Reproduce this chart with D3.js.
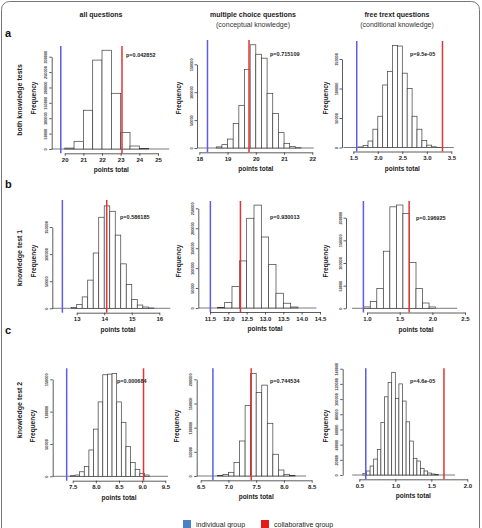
<!DOCTYPE html>
<html><head><meta charset="utf-8">
<script src="https://cdn.jsdelivr.net/npm/d3@7"></script>
<style>
body{margin:0;background:#fff;}
svg{display:block;font-family:"Liberation Sans",Arial,Helvetica,sans-serif;}
</style></head><body>
<svg id="chart" width="482" height="528"></svg>
<script>
// ---------- DATA ----------
const colTitles = ["all questions", "multiple choice questions", "free trext questions"];
const colSubtitles = ["", "(conceptual knowledge)", "(conditional knowledge)"];
const rowLabels = ["both knowledge tests", "knowledge test 1", "knowledge test 2"];
const rowLetters = ["a", "b", "c"];
const legendLabels = ["individual group", "collaborative group"];

const binStarts = [20, 18.6, 1.6, 12.8, 11.7, 0.95, 7.45, 6.8, 0.55];
const binWidths = [0.5, 0.2, 0.1, 0.2, 0.2, 0.1, 0.1, 0.1, 0.05];

const countsA1 = [3000, 25000, 126000, 289000, 321000, 181000, 54000, 9700, 2000];
const countsA2 = [2000, 6000, 16000, 44000, 76500, 141000, 185000, 168000, 161000, 98000, 62000, 27500, 8400, 2400, 600];
const countsA3 = [1000, 3500, 11000, 31000, 53000, 106000, 129000, 173000, 172000, 126000, 100000, 53000, 31000, 12000, 4000, 1200, 300];
const countsB1 = [1800, 7300, 21000, 52000, 102000, 168000, 189000, 179000, 135000, 82000, 44000, 16500, 6000, 2400, 600];
const countsB2 = [1500, 14000, 54000, 118000, 225000, 258000, 178000, 109000, 37000, 12000, 2500];
const countsB3 = [3000, 14700, 44000, 126000, 224000, 228000, 209000, 101000, 44000, 11700, 3000];
const countsC1 = [1000, 2000, 7000, 15000, 40700, 73000, 115000, 157000, 158000, 159000, 115000, 83500, 46000, 21600, 10800, 4600, 2000];
const countsC2 = [1400, 3500, 7600, 28000, 72400, 145500, 212000, 173000, 188000, 109000, 45000, 12400, 3500, 1400];
const countsC3 = [2200, 5300, 11800, 21000, 33800, 69300, 103000, 122000, 135000, 101000, 120000, 97400, 70000, 44700, 22000, 18400, 8800, 5300, 2600, 1300, 900];
const allCounts = [countsA1, countsA2, countsA3, countsB1, countsB2, countsB3, countsC1, countsC2, countsC3];

const breakRanges = [[19.3, 25.6], [17.95, 22.05], [1.3, 3.55], [12.1, 16.4], [11.2, 14.4], [0.77, 2.38], [7.07, 9.56], [6.43, 8.4], [0.4, 1.83]];

const individualScores = [19.79, 18.29, 1.57, 12.48, 11.51, 0.945, 7.37, 6.72, 0.59];
const collaborativeScores = [23.07, 19.76, 3.32, 14.09, 12.33, 1.645, 9.03, 7.41, 1.676];
const pLabels = ["p=0.042852", "p=0.715109", "p=9.5e-05", "p=0.586185", "p=0.930013", "p=0.196925", "p=0.000684", "p=0.744534", "p=4.6e-05"];

const xTicksA1 = [20, 21, 22, 23, 24, 25];
const xTicksA2 = [18, 19, 20, 21, 22];
const xTicksA3 = [1.5, 2.0, 2.5, 3.0, 3.5];
const xTicksB1 = [13, 14, 15, 16];
const xTicksB2 = [11.5, 12.0, 12.5, 13.0, 13.5, 14.0, 14.5];
const xTicksB3 = [1.0, 1.5, 2.0, 2.5];
const xTicksC1 = [7.5, 8.0, 8.5, 9.0, 9.5];
const xTicksC2 = [6.5, 7.0, 7.5, 8.0, 8.5];
const xTicksC3 = [0.5, 1.0, 1.5, 2.0];
const allXTicks = [xTicksA1, xTicksA2, xTicksA3, xTicksB1, xTicksB2, xTicksB3, xTicksC1, xTicksC2, xTicksC3];
const xTickDecimals = [0, 0, 1, 0, 1, 1, 1, 1, 1];

const yTicksA1 = [0, 50000, 100000, 150000, 200000, 250000, 300000];
const yTicksA2 = [0, 50000, 100000, 150000];
const yTicksA3 = [0, 50000, 100000, 150000];
const yTicksB1 = [0, 50000, 100000, 150000];
const yTicksB2 = [0, 50000, 100000, 150000, 200000, 250000];
const yTicksB3 = [0, 50000, 100000, 150000, 200000];
const yTicksC1 = [0, 50000, 100000, 150000];
const yTicksC2 = [0, 50000, 100000, 150000, 200000];
const yTicksC3 = [0, 20000, 40000, 60000, 80000, 100000, 120000, 140000];
const allYTicks = [yTicksA1, yTicksA2, yTicksA3, yTicksB1, yTicksB2, yTicksB3, yTicksC1, yTicksC2, yTicksC3];

// ---------- LAYOUT (pixel placement of each panel) ----------
const layout = [
  {xr:[64.7,158],  yr:[149,56.7],  left:51.7, bottom:153.3, top:46,  px:126, py:57,  fx:34},
  {xr:[199.3,312.3], yr:[148,64.3], left:197, bottom:152.3, top:40,  px:270, py:56,  fx:179},
  {xr:[353.3,451.3], yr:[147.5,59], left:342, bottom:151.5, top:41,  px:410, py:56,  fx:326},
  {xr:[76.7,159.3], yr:[308.3,227], left:52.3, bottom:312.7, top:200, px:120, py:219, fx:34},
  {xr:[210,320],   yr:[308,208.3], left:198.3, bottom:312, top:201, px:270, py:219, fx:179},
  {xr:[367,465],   yr:[308.3,217.7], left:346, bottom:312.5, top:201, px:416, py:220, fx:326},
  {xr:[72.7,165.3], yr:[476.3,379.3], left:52.7, bottom:480.7, top:368.3, px:117, py:383, fx:33.3},
  {xr:[200.7,311.7], yr:[476,379.3], left:196.7, bottom:480.3, top:368.3, px:270, py:383, fx:177.3},
  {xr:[359.3,467.3], yr:[475,368.7], left:342.7, bottom:479.3, top:368.3, px:410, py:383, fx:326}
];
const rowFreqY = [98, 261, 426];
const colCenters = [101, 253, 397];
const rowCenters = [100, 258, 410];
const letterY = [37, 188, 334];

const INDIV = "#5c5ce6", COLLAB = "#e23434";

const svg = d3.select("#chart");

// border
svg.append("rect").attr("x",1.5).attr("y",1.5).attr("width",478).attr("height",545)
  .attr("rx",8).attr("fill","none").attr("stroke","#777").attr("stroke-width",1);

// column headers
colTitles.forEach((t,i)=>{
  svg.append("text").attr("x",colCenters[i]).attr("y",16.5).attr("text-anchor","middle")
    .attr("font-size",7).attr("font-weight","bold").attr("fill","#222").text(t);
  if (colSubtitles[i]) svg.append("text").attr("x",colCenters[i]).attr("y",26.5).attr("text-anchor","middle")
    .attr("font-size",7).attr("fill","#333").text(colSubtitles[i]);
});

// row labels and letters
rowLabels.forEach((t,i)=>{
  svg.append("text").attr("transform",`translate(22,${rowCenters[i]}) rotate(-90)`)
    .attr("text-anchor","middle").attr("font-size",7).attr("font-weight","bold").attr("fill","#222").text(t);
  svg.append("text").attr("x",5).attr("y",letterY[i]).attr("font-size",11).attr("font-weight","bold")
    .attr("fill","#111").text(rowLetters[i]);
});

// panels
allCounts.forEach((counts, k)=>{
  const L = layout[k];
  const xt = allXTicks[k], yt = allYTicks[k];
  const xs = d3.scaleLinear().domain([xt[0], xt[xt.length-1]]).range(L.xr);
  const ys = d3.scaleLinear().domain([0, yt[yt.length-1]]).range(L.yr);
  const g = svg.append("g");
  const row = Math.floor(k/3);

  // baseline (empty bins)
  g.append("line").attr("x1",xs(breakRanges[k][0])).attr("x2",xs(breakRanges[k][1]))
    .attr("y1",ys(0)).attr("y2",ys(0)).attr("stroke","#444").attr("stroke-width",0.7);

  // bars
  const bins = counts.map((c,i)=>({x0: binStarts[k] + i*binWidths[k], x1: binStarts[k] + (i+1)*binWidths[k], c}));
  g.selectAll("rect.bar").data(bins).join("rect").attr("class","bar")
    .attr("x", d=>xs(d.x0)).attr("width", d=>xs(d.x1)-xs(d.x0))
    .attr("y", d=>ys(d.c)).attr("height", d=>ys(0)-ys(d.c))
    .attr("fill","#fff").attr("stroke","#3c3c3c").attr("stroke-width",0.7);

  // x axis
  const dec = xTickDecimals[k];
  const xa = g.append("g").attr("transform",`translate(0,${L.bottom})`)
    .call(d3.axisBottom(xs).tickValues(xt).tickSize(2.5).tickSizeOuter(0).tickPadding(2)
      .tickFormat(d=>d3.format(`.${dec}f`)(d)));
  xa.select(".domain").attr("stroke","#333").attr("stroke-width",0.8);
  xa.selectAll(".tick line").attr("stroke","#333").attr("stroke-width",0.8);
  xa.selectAll("text").attr("font-size",6).attr("font-weight","bold").attr("fill","#222")
    .attr("font-family","Liberation Sans, Arial, sans-serif");

  // y axis
  const ya = g.append("g").attr("transform",`translate(${L.left},0)`)
    .call(d3.axisLeft(ys).tickValues(yt).tickSize(2.5).tickSizeOuter(0).tickFormat(d3.format("d")));
  ya.select(".domain").attr("stroke","#333").attr("stroke-width",0.8);
  ya.selectAll(".tick line").attr("stroke","#333").attr("stroke-width",0.8);
  ya.selectAll("text").attr("font-size",3.8).attr("fill","#333").attr("font-weight","bold")
    .attr("transform","rotate(-90)").attr("x",0).attr("y",-4.5).attr("dy",0)
    .attr("text-anchor","middle").attr("font-family","Liberation Sans, Arial, sans-serif");

  // axis titles
  g.append("text").attr("x",(L.xr[0]+L.xr[1])/2).attr("y",L.bottom+19).attr("text-anchor","middle")
    .attr("font-size",6.5).attr("font-weight","bold").attr("fill","#222").text("points total");
  g.append("text").attr("transform",`translate(${L.fx+2},${rowFreqY[row]}) rotate(-90)`)
    .attr("text-anchor","middle").attr("font-size",6.5).attr("font-weight","bold").attr("fill","#222").text("Frequency");

  // group lines
  g.append("line").attr("x1",xs(individualScores[k])).attr("x2",xs(individualScores[k]))
    .attr("y1",L.top).attr("y2",L.bottom).attr("stroke",INDIV).attr("stroke-width",1.5);
  g.append("line").attr("x1",xs(collaborativeScores[k])).attr("x2",xs(collaborativeScores[k]))
    .attr("y1",L.top).attr("y2",L.bottom).attr("stroke",COLLAB).attr("stroke-width",1.5);

  // p label
  g.append("text").attr("x",L.px).attr("y",L.py).attr("font-size",5.5).attr("font-weight","bold")
    .attr("fill","#222").text(pLabels[k]);
});

// legend
const legColors = [ "#4f7ec9", "#e31a1a" ];
const legX = [183, 261];
legendLabels.forEach((t,i)=>{
  svg.append("rect").attr("x",legX[i]).attr("y",520).attr("width",8).attr("height",8).attr("fill",legColors[i]);
  svg.append("text").attr("x",legX[i]+13).attr("y",527).attr("font-size",7).attr("fill","#222").text(t);
});
</script>
</body></html>
